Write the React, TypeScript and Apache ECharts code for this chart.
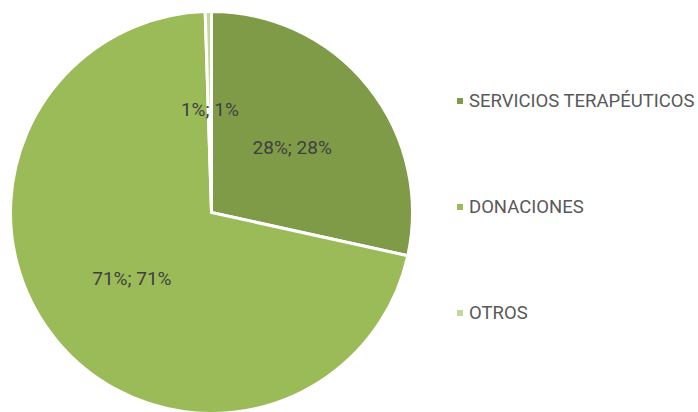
import React, { useEffect, useRef } from "react";
import * as echarts from "echarts";

const categories = ["SERVICIOS TERAPÉUTICOS", "DONACIONES", "OTROS"];
const values = [28.45, 71.05, 0.5];
const colors = ["#809B48", "#9BBB59", "#C4D79B"];

export default function App() {
  const ref = useRef<HTMLDivElement>(null);
  useEffect(() => {
    document.body.style.margin = "0";
    const chart = echarts.init(ref.current!, null, { renderer: "svg" });
    chart.setOption({
      animation: false,
      backgroundColor: "#ffffff",
      color: colors,
      legend: {
        orient: "vertical",
        left: 455,
        top: 91,
        itemWidth: 8,
        itemHeight: 8,
        itemGap: 86,
        icon: "rect",
        padding: 0,
        data: categories,
        selectedMode: false,
        textStyle: {
          fontFamily: "Roboto",
          fontSize: 18.5,
          color: "#595959",
          lineHeight: 20,
        },
      },
      series: [
        {
          type: "pie",
          center: [211.5, 212.5],
          radius: 201,
          startAngle: 90,
          clockwise: true,
          silent: true,
          itemStyle: { borderColor: "#ffffff", borderWidth: 3 },
          label: {
            show: true,
            position: "inner",
            fontFamily: "Roboto",
            fontSize: 19,
            color: "#404040",
            formatter: (p: any) => {
              const r = Math.round(p.percent);
              return r + "%; " + r + "%";
            },
          },
          labelLine: { show: false },
          data: categories.map((c, i) => ({ name: c, value: values[i] })),
        },
      ],
    });
    return () => chart.dispose();
  }, []);
  return <div ref={ref} style={{ position: "fixed", left: 0, top: 0, width: 698, height: 412 }} />;
}
